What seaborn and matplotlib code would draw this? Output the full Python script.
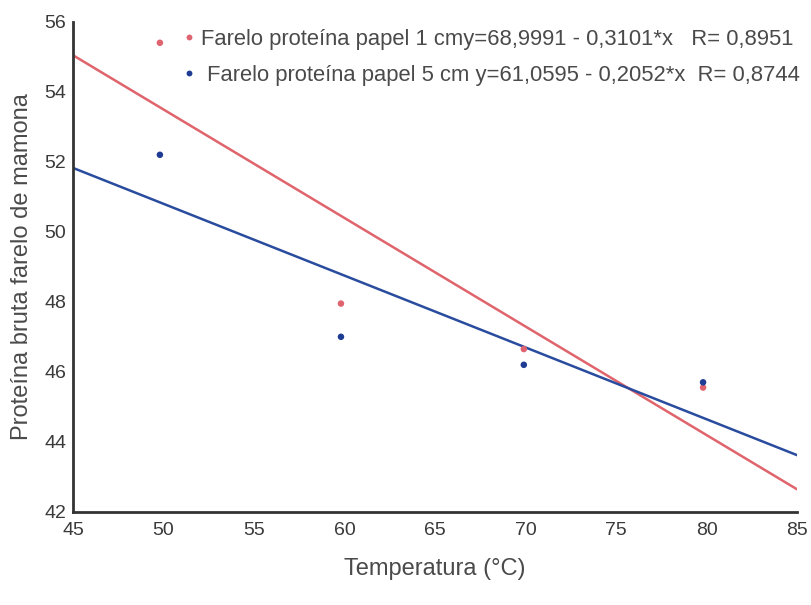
import numpy as np
import pandas as pd
import matplotlib
matplotlib.use("Agg")
import matplotlib.pyplot as plt
import seaborn as sns

# Data
temperatura = [49.8, 59.8, 69.9, 79.8]
proteina_1cm = [55.4, 47.95, 46.65, 45.55]
proteina_5cm = [52.2, 47.0, 46.2, 45.7]

series_labels = [
    "Farelo proteína papel 1 cmy=68,9991 - 0,3101*x   R= 0,8951",
    " Farelo proteína papel 5 cm y=61,0595 - 0,2052*x  R= 0,8744",
]
intercepts = [68.9991, 61.0595]
slopes = [-0.3101, -0.2052]
fit_range = [45, 85]

colors = ["#e0646f", "#1f3c94"]
line_colors = ["#e0646c", "#2a4c9e"]

x_ticks = [45, 50, 55, 60, 65, 70, 75, 80, 85]
y_ticks = [42, 44, 46, 48, 50, 52, 54, 56]

sns.set_theme(style="white")
plt.rcParams["font.family"] = ["Liberation Sans", "DejaVu Sans"]

df = pd.DataFrame({
    "x": temperatura * 2,
    "y": proteina_1cm + proteina_5cm,
    "serie": [series_labels[0]] * 4 + [series_labels[1]] * 4,
})

fit_rows = []
for lab, b0, b1 in zip(series_labels, intercepts, slopes):
    for xv in fit_range:
        fit_rows.append({"x": xv, "y": b0 + b1 * xv, "serie": lab})
fit_df = pd.DataFrame(fit_rows)

fig = plt.figure(figsize=(8.11, 6.05), dpi=100)
ax = fig.add_axes([0.090, 0.154, 0.893, 0.810])

sns.lineplot(data=fit_df, x="x", y="y", hue="serie", palette=line_colors,
             ax=ax, legend=False, linewidth=1.8)
sns.scatterplot(data=df, x="x", y="y", hue="serie", palette=colors, ax=ax,
                s=22, edgecolor="none", zorder=5)

ax.set_xlim(45, 85)
ax.set_ylim(42, 56)
ax.set_xticks(x_ticks)
ax.set_yticks(y_ticks)
ax.tick_params(axis="both", direction="in", length=4, width=1.2,
               labelsize=14, labelcolor="#3a3a3a", color="#444444")
ax.tick_params(axis="x", pad=7)
ax.tick_params(axis="y", pad=5)
for s in ["top", "right"]:
    ax.spines[s].set_visible(False)
for s in ["left", "bottom"]:
    ax.spines[s].set_color("#333333")
    ax.spines[s].set_linewidth(2)

ax.set_xlabel("Temperatura (°C)", fontsize=17, color="#4a4a4a", labelpad=14)
ax.set_ylabel("Proteína bruta farelo de mamona", fontsize=17, color="#4a4a4a", labelpad=8)

leg = ax.legend(loc="upper right", bbox_to_anchor=(1.022, 1.012), frameon=False,
                fontsize=15.8, handletextpad=0.1, labelspacing=0.66,
                markerscale=0.9, borderaxespad=0.2, handlelength=0.9)
for t in leg.get_texts():
    t.set_color("#4a4a4a")

fig.savefig("out.png", dpi=100)
